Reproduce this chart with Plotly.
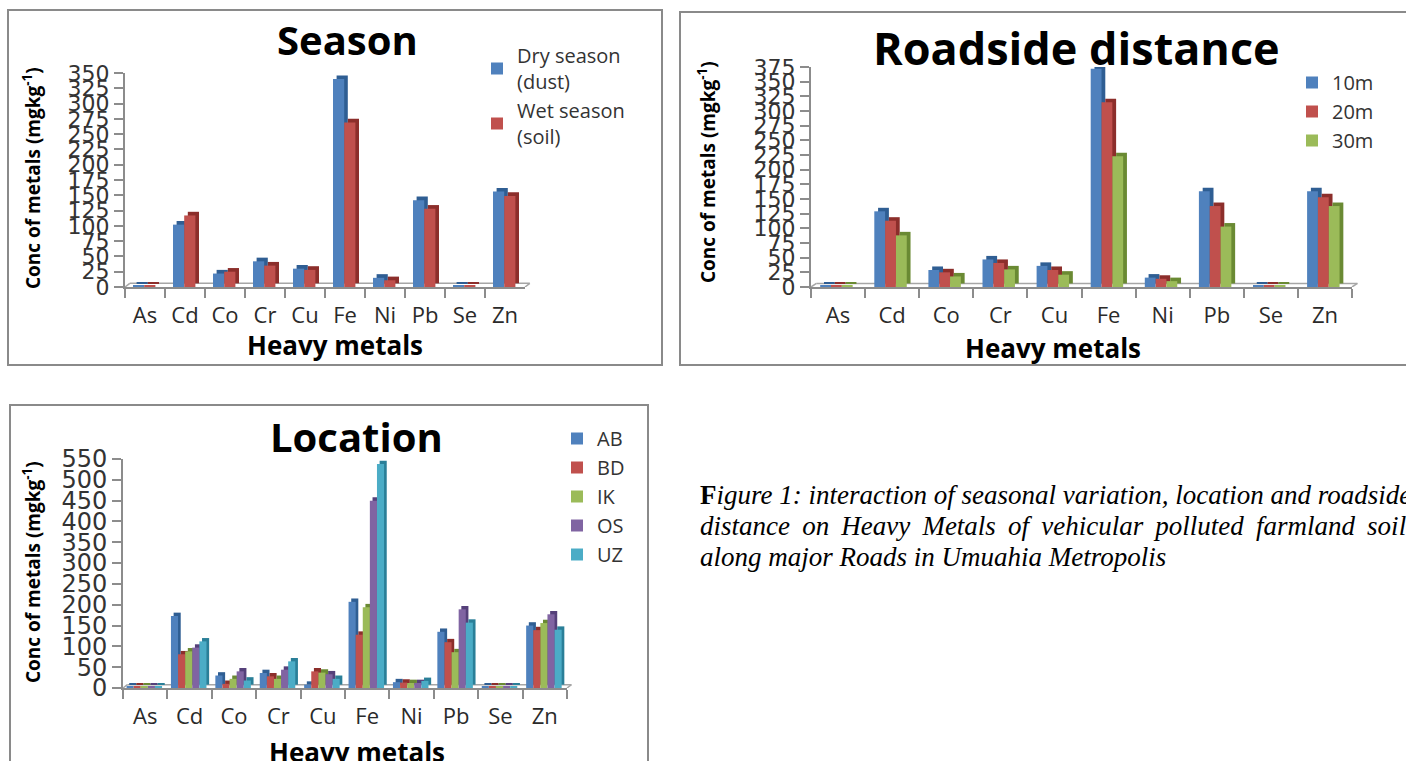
import plotly.graph_objects as go

W, H = 1406, 761
metals = ["As", "Cd", "Co", "Cr", "Cu", "Fe", "Ni", "Pb", "Se", "Zn"]

# Season
dry_season = [2, 102, 22, 42, 30, 340, 15, 142, 2, 156]
wet_season = [2, 117, 25, 35, 28, 269, 11, 128, 2, 149]
# Roadside distance
d10m = [2, 129, 29, 47, 36, 372, 16, 163, 2, 163]
d20m = [2, 113, 25, 41, 29, 315, 14, 138, 2, 153]
d30m = [2, 88, 18, 30, 21, 223, 10, 103, 2, 138]
# Location
loc_AB = [3, 173, 30, 36, 8, 207, 14, 135, 3, 150]
loc_BD = [3, 81, 10, 28, 40, 128, 13, 110, 3, 139]
loc_IK = [3, 88, 22, 22, 37, 194, 12, 86, 3, 156]
loc_OS = [3, 97, 40, 44, 33, 450, 12, 189, 3, 177]
loc_UZ = [3, 112, 18, 64, 22, 538, 17, 157, 3, 140]

BLUE, RED, GREEN, PURPLE, CYAN = "#4F81BD", "#C0504D", "#9BBB59", "#8064A2", "#4BACC6"
SIDE = {BLUE: "#2F5E93", RED: "#8C2E2B", GREEN: "#6A8A33", PURPLE: "#55407A", CYAN: "#2A7F98"}

def px(x):
    return x / W

def py(y):
    return 1 - y / H

FONT = "Open Sans"
fig = go.Figure()

def add_series(vals, name, color, xa, ya, legend, offset, width, dx, dy):
    # darker extruded side (3-D look), drawn behind the front face
    fig.add_trace(go.Bar(
        x=metals, y=vals, base=[dy] * len(vals), offset=offset + dx, width=width,
        xaxis=xa, yaxis=ya, showlegend=False, hoverinfo="skip",
        marker=dict(color=SIDE[color], line=dict(width=0)),
    ))
    fig.add_trace(go.Bar(
        x=metals, y=vals, name=name, offset=offset, width=width,
        xaxis=xa, yaxis=ya, legend=legend,
        marker=dict(color=color, line=dict(width=0)),
    ))

# Season: 2 bars per category
for i, (vals, nm, c) in enumerate([(dry_season, "Dry season<br>(dust)", BLUE),
                                   (wet_season, "Wet season<br>(soil)", RED)]):
    add_series(vals, nm, c, "x", "y", "legend", -0.30 + i * 0.28, 0.28, 0.09, 6)
# Roadside: 3 bars per category
for i, (vals, nm, c) in enumerate([(d10m, "10m", BLUE), (d20m, "20m", RED), (d30m, "30m", GREEN)]):
    add_series(vals, nm, c, "x2", "y2", "legend2", -0.33 + i * 0.2, 0.2, 0.07, 6)
# Location: 5 bars per category
for i, (vals, nm, c) in enumerate([(loc_AB, "AB", BLUE), (loc_BD, "BD", RED), (loc_IK, "IK", GREEN),
                                   (loc_OS, "OS", PURPLE), (loc_UZ, "UZ", CYAN)]):
    add_series(vals, nm, c, "x3", "y3", "legend3", -0.42 + i * 0.16, 0.16, 0.06, 8)

axis_common = dict(showline=True, linecolor="#8C8C8C", linewidth=2, ticks="outside",
                   tickcolor="#8C8C8C", ticklen=9, tickwidth=2, showgrid=False, zeroline=False)
xtick = dict(family=FONT, size=22, color="#2A2A2A")
ytick = dict(family="DejaVu Sans", size=22, color="#333333")

leg_common = dict(xanchor="left", yanchor="top", bgcolor="rgba(0,0,0,0)", itemwidth=30,
                  itemclick=False, itemdoubleclick=False)

fig.update_layout(
    width=W, height=H, margin=dict(l=0, r=0, t=0, b=0, autoexpand=False),
    paper_bgcolor="white", plot_bgcolor="white",
    barmode="overlay",
    xaxis=dict(domain=[px(125), px(525)], anchor="y", tickson="boundaries", tickfont=xtick,
               ticklabelstandoff=8, **axis_common),
    yaxis=dict(domain=[py(287), py(73)], anchor="x", range=[0, 350], dtick=25, tickfont=ytick,
               ticklabelstandoff=0, **axis_common),
    xaxis2=dict(domain=[px(811), px(1352)], anchor="y2", tickson="boundaries", tickfont=xtick,
                ticklabelstandoff=8, **axis_common),
    yaxis2=dict(domain=[py(287), py(67)], anchor="x2", range=[0, 375], dtick=25, tickfont=ytick,
                ticklabelstandoff=0, **axis_common),
    xaxis3=dict(domain=[px(123), px(567)], anchor="y3", tickson="boundaries", tickfont=xtick,
                ticklabelstandoff=8, **axis_common),
    yaxis3=dict(domain=[py(688), py(459)], anchor="x3", range=[0, 550], dtick=50,
                tickfont=dict(family="DejaVu Sans", size=24, color="#333333"),
                ticklabelstandoff=0, **axis_common),
    legend=dict(x=px(477), y=py(36), font=dict(family=FONT, size=20, color="#333"),
                tracegroupgap=6, **leg_common),
    legend2=dict(x=px(1292), y=py(63), font=dict(family=FONT, size=20, color="#333"),
                 tracegroupgap=0, **leg_common),
    legend3=dict(x=px(557), y=py(419), font=dict(family=FONT, size=20, color="#333"),
                 tracegroupgap=3, **leg_common),
    showlegend=True,
)

# 3-D floor edge behind each x axis
for xa, ya, dxf, dyv in [("x", "y", 0.012, 6), ("x2", "y2", 0.010, 6), ("x3", "y3", 0.010, 8)]:
    fig.add_shape(type="line", xref=f"{xa} domain", yref=ya, x0=dxf, x1=1 + dxf, y0=dyv, y1=dyv,
                  line=dict(color="#A6A6A6", width=1.5), layer="below")
    fig.add_shape(type="line", xref=f"{xa} domain", yref=ya, x0=1, x1=1 + dxf, y0=0, y1=dyv,
                  line=dict(color="#A6A6A6", width=1.5), layer="below")
    fig.add_shape(type="line", xref=f"{xa} domain", yref=ya, x0=0, x1=dxf, y0=0, y1=dyv,
                  line=dict(color="#A6A6A6", width=1.5), layer="below")

# Panel borders
for (x0, y0, x1, y1) in [(8, 10, 662, 365), (680, 12, 1412, 365), (10, 405, 648, 770)]:
    fig.add_shape(type="rect", xref="paper", yref="paper", x0=px(x0), x1=px(x1), y0=py(y1), y1=py(y0),
                  line=dict(color="#8A8A8A", width=2), fillcolor="rgba(0,0,0,0)", layer="below")

def text(t, x, y, size):
    fig.add_annotation(text=f"<b>{t}</b>", x=px(x), y=py(y), xref="paper", yref="paper",
                       showarrow=False, font=dict(family=FONT, size=size, color="black"),
                       xanchor="center", yanchor="middle")

text("Season", 347, 39, 40)
text("Roadside distance", 1076, 47, 45)
text("Location", 357, 436, 40)
text("Heavy metals", 335, 345, 26)
text("Heavy metals", 1053, 348, 26)
text("Heavy metals", 357, 752, 26)

ylab = "<b>Conc of metals (mgkg<sup>-1</sup>)</b>"
for x, y in [(32, 178), (707, 172), (32, 572)]:
    fig.add_annotation(text=ylab, x=px(x), y=py(y), xref="paper", yref="paper", showarrow=False,
                       textangle=-90, font=dict(family=FONT, size=19, color="black"),
                       xanchor="center", yanchor="middle")

# Caption (second line justified with widened word gaps)
cap_font = dict(family="Liberation Serif", size=27, color="black")
gap = "\u2009 "
line2_words = ["distance", "on", "Heavy", "Metals", "of", "vehicular", "polluted", "farmland", "soils"]
lines = [
    "<b>F</b><i>igure 1: interaction of seasonal variation, location and roadside</i>",
    "<i>" + gap.join(line2_words) + "</i>",
    "<i>along major Roads in Umuahia Metropolis</i>",
]
for i, t in enumerate(lines):
    fig.add_annotation(text=t, x=px(698), y=py(495 + i * 31), xref="paper", yref="paper",
                       showarrow=False, font=cap_font, xanchor="left", yanchor="middle")

fig.write_html("out.html", config={"displayModeBar": False},
               post_script="document.body.style.margin='0';document.body.style.overflow='hidden';")
